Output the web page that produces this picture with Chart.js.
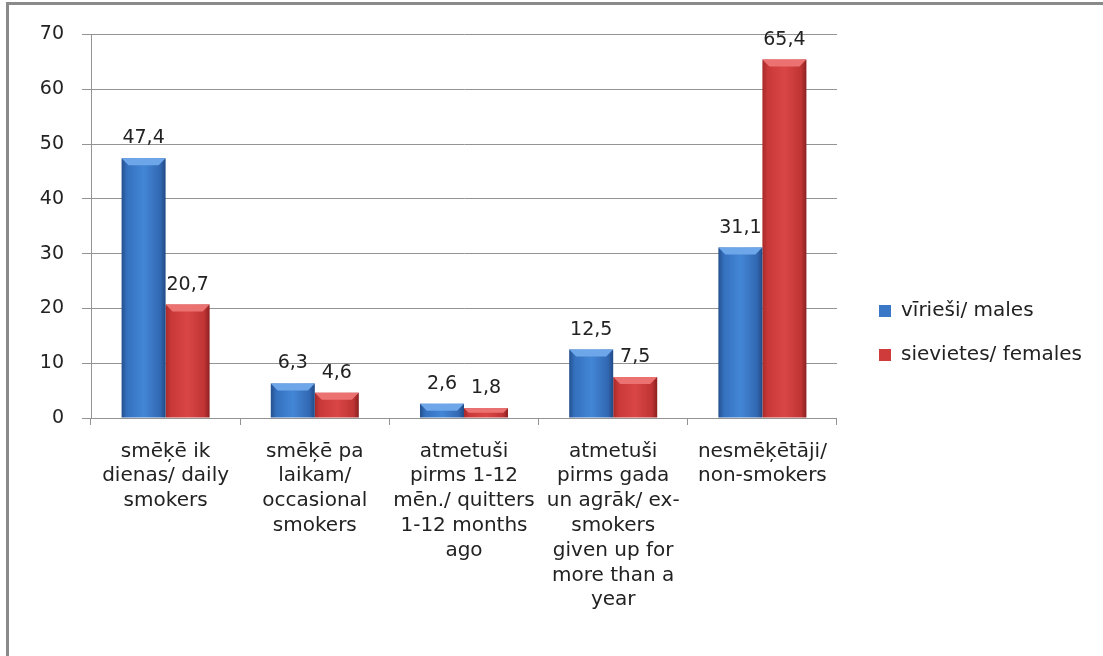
<!DOCTYPE html>
<html>
<head>
<meta charset="utf-8">
<script src="https://cdn.jsdelivr.net/npm/chart.js@4"></script>
<style>
  html, body { margin: 0; padding: 0; background: #fff; }
  #frame {
    position: absolute; left: 6px; top: 2px;
    width: 1094px; height: 651px;
    border-left: 3px solid #8a8a8a; border-top: 3px solid #8a8a8a;
  }
  canvas { display: block; }
</style>
</head>
<body>
<div id="frame"><canvas id="barChart" width="1094" height="651"></canvas></div>
<script>
const categories = [
  ['smēķē ik', 'dienas/ daily', 'smokers'],
  ['smēķē pa', 'laikam/', 'occasional', 'smokers'],
  ['atmetuši', 'pirms 1-12', 'mēn./ quitters', '1-12 months', 'ago'],
  ['atmetuši', 'pirms gada', 'un agrāk/ ex-', 'smokers', 'given up for', 'more than a', 'year'],
  ['nesmēķētāji/', 'non-smokers']
];
const males = [47.4, 6.3, 2.6, 12.5, 31.1];
const females = [20.7, 4.6, 1.8, 7.5, 65.4];
const seriesNames = ['vīrieši/ males', 'sievietes/ females'];
const yMin = 0, yMax = 70, yStep = 10;

// colours for the "3d" look of the bars
const flat = ['#3a77c6', '#cf3b3b'];
const shades = [
  [[0, '#24508e'], [0.12, '#3470bd'], [0.5, '#4386d6'], [0.88, '#3268b2'], [1, '#214a85']],
  [[0, '#a82a2a'], [0.12, '#c93838'], [0.5, '#da4646'], [0.88, '#bf3434'], [1, '#8c2020']]
];
const topShade = ['#6ea6ea', '#ec7272'];
const gridGrey = '#939393';

const ctx = document.getElementById('barChart');
Chart.defaults.font.family = '"DejaVu Sans", sans-serif';
Chart.defaults.font.size = 19;
Chart.defaults.color = '#222';

const barLook = {
  id: 'barLook',
  afterLayout(chart) {
    // put the legend where the original has it
    const lg = chart.legend;
    const dx = 846 - lg.left;
    lg.left += dx;
    lg.right += dx;
    lg.top -= 12;
    lg.bottom -= 12;
  },
  beforeDatasetsDraw(chart) {
    const c = chart.ctx;
    chart.data.datasets.forEach((ds, i) => {
      chart.getDatasetMeta(i).data.forEach(bar => {
        const l = bar.x - bar.width / 2, r = bar.x + bar.width / 2;
        const g = c.createLinearGradient(l, 0, r, 0);
        shades[i].forEach(([p, col]) => g.addColorStop(p, col));
        bar.options = Object.assign({}, bar.options, { backgroundColor: g });
      });
    });
  },
  afterDatasetsDraw(chart) {
    const c = chart.ctx;
    c.save();
    chart.data.datasets.forEach((ds, i) => {
      chart.getDatasetMeta(i).data.forEach((bar, j) => {
        const l = bar.x - bar.width / 2, r = bar.x + bar.width / 2;
        const h = Math.min(7, (bar.base - bar.y) / 2);
        c.fillStyle = topShade[i];
        c.beginPath();
        c.moveTo(l, bar.y);
        c.lineTo(r, bar.y);
        c.lineTo(r - h, bar.y + h);
        c.lineTo(l + h, bar.y + h);
        c.closePath();
        c.fill();
        // value label with decimal comma
        c.fillStyle = '#222';
        c.font = '19px "DejaVu Sans", sans-serif';
        c.textAlign = 'center';
        c.textBaseline = 'alphabetic';
        c.fillText(String(ds.data[j]).replace('.', ','), bar.x, bar.y - 15);
      });
    });
    c.restore();
  }
};

new Chart(ctx, {
  type: 'bar',
  data: {
    labels: categories,
    datasets: [
      { label: seriesNames[0], data: males, backgroundColor: flat[0], borderWidth: 0,
        categoryPercentage: 0.59, barPercentage: 1 },
      { label: seriesNames[1], data: females, backgroundColor: flat[1], borderWidth: 0,
        categoryPercentage: 0.59, barPercentage: 1 }
    ]
  },
  options: {
    responsive: false,
    animation: false,
    layout: { padding: { top: 29, left: 0, right: 29, bottom: 0 } },
    plugins: {
      legend: {
        position: 'right',
        labels: { boxWidth: 12, boxHeight: 12, padding: 24, font: { size: 20 } }
      },
      tooltip: { enabled: false }
    },
    scales: {
      x: {
        grid: { display: true, drawOnChartArea: false, offset: true, tickLength: 7, color: gridGrey },
        border: { color: gridGrey },
        ticks: { maxRotation: 0, autoSkip: false, padding: 14, font: { size: 20, lineHeight: 1.24 } },
        afterFit(s) { s.height = 238; }
      },
      y: {
        min: yMin, max: yMax,
        grid: { color: gridGrey, tickLength: 9 },
        border: { color: gridGrey },
        ticks: { stepSize: yStep, padding: 18 },
        afterFit(s) { s.width = 82; }
      }
    }
  },
  plugins: [barLook]
});
</script>
</body>
</html>
